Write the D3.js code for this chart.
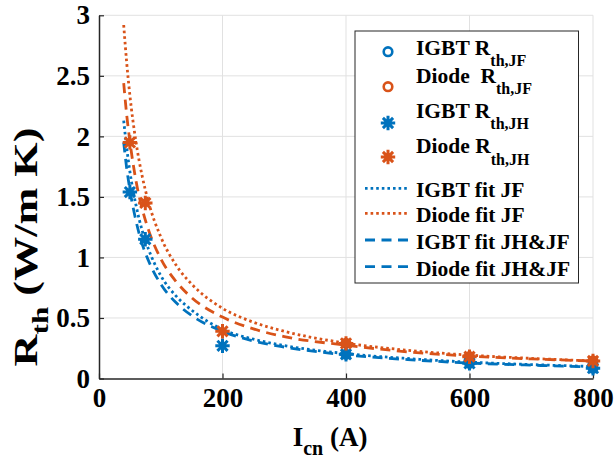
<!DOCTYPE html>
<html>
<head>
<meta charset="utf-8">
<script src="https://cdn.jsdelivr.net/npm/d3@7"></script>
<style>
  html, body { margin: 0; padding: 0; background: #fff; }
  svg { display: block; }
  text { font-family: "Liberation Serif", "Times New Roman", Times, serif; font-weight: bold; fill: #000; }
</style>
</head>
<body>
<svg id="chart" width="614" height="466"></svg>
<script>
// ---------------- data ----------------
const measX = [50, 75, 200, 400, 600, 800];
const igbtJH = [1.54, 1.15, 0.27, 0.20, 0.125, 0.085];
const diodeJH = [1.95, 1.45, 0.39, 0.29, 0.18, 0.145];
const jfX = [400, 600, 800];
const igbtJF = [0.20, 0.125, 0.085];
const diodeJF = [0.29, 0.18, 0.145];

const fitX = [40, 45, 50, 60, 70, 80, 100, 125, 150, 200, 250, 300, 400, 500, 600, 700, 800];
const igbtFitJF = [2.13, 1.90, 1.71, 1.43, 1.22, 1.07, 0.85, 0.68, 0.565, 0.405, 0.325, 0.272, 0.205, 0.165, 0.135, 0.115, 0.099];
const diodeFitJF = [2.92, 2.60, 2.34, 1.95, 1.67, 1.46, 1.17, 0.935, 0.78, 0.58, 0.465, 0.39, 0.292, 0.233, 0.193, 0.166, 0.145];
const igbtFitJHJF = [1.95, 1.73, 1.56, 1.30, 1.11, 0.975, 0.78, 0.625, 0.52, 0.39, 0.31, 0.26, 0.195, 0.156, 0.128, 0.11, 0.096];
const diodeFitJHJF = [2.44, 2.17, 1.96, 1.63, 1.40, 1.23, 0.99, 0.80, 0.668, 0.507, 0.41, 0.346, 0.275, 0.22, 0.185, 0.162, 0.145];

const xTicks = [0, 200, 400, 600, 800];
const yTicks = [0, 0.5, 1, 1.5, 2, 2.5, 3];
const yTickLabels = ["0", "0.5", "1", "1.5", "2", "2.5", "3"];

const BLUE = "#0072BD", RED = "#D95319";

// ---------------- layout ----------------
const svg = d3.select("#chart");
const L = 99, R = 593, T = 15.3, B = 378.5;
const x = d3.scaleLinear().domain([0, 800]).range([L, R]);
const y = d3.scaleLinear().domain([0, 3]).range([B, T]);

// grid
const grid = svg.append("g");
grid.selectAll("line.v").data(xTicks.slice(1)).join("line")
  .attr("x1", d => x(d)).attr("x2", d => x(d)).attr("y1", T).attr("y2", B)
  .attr("stroke", "#e1e1e1").attr("stroke-width", 1);
grid.selectAll("line.h").data(yTicks.slice(1)).join("line")
  .attr("x1", L).attr("x2", R).attr("y1", d => y(d)).attr("y2", d => y(d))
  .attr("stroke", "#e1e1e1").attr("stroke-width", 1);

// axes
const xAxis = d3.axisBottom(x).tickValues(xTicks).tickFormat(d3.format("d"))
  .tickSizeInner(-5).tickSizeOuter(0).tickPadding(9);
const yAxis = d3.axisLeft(y).tickValues(yTicks).tickFormat((d, i) => yTickLabels[i])
  .tickSizeInner(-5).tickSizeOuter(0).tickPadding(9);

const gx = svg.append("g").attr("transform", `translate(0,${B})`).call(xAxis);
const gy = svg.append("g").attr("transform", `translate(${L},0)`).call(yAxis);
[gx, gy].forEach(g => {
  g.attr("font-family", null);
  g.select(".domain").attr("stroke", "#262626").attr("stroke-width", 1.5);
  g.selectAll(".tick line").attr("stroke", "#262626").attr("stroke-width", 1.2);
  g.selectAll(".tick text").attr("font-size", 27).attr("fill", "#000");
});

// curves
const plot = svg.append("g");
const line = d3.line().x(d => x(d[0])).y(d => y(d[1])).curve(d3.curveMonotoneX);

// markers
function asterisk(g, cx, cy, color) {
  const s = 7.2, d = s * 0.7071;
  g.append("path")
    .attr("d", `M${cx - s},${cy}L${cx + s},${cy}M${cx},${cy - s}L${cx},${cy + s}M${cx - d},${cy - d}L${cx + d},${cy + d}M${cx - d},${cy + d}L${cx + d},${cy - d}`)
    .attr("stroke", color).attr("stroke-width", 3).attr("fill", "none");
}
function circle(g, cx, cy, color) {
  g.append("circle").attr("cx", cx).attr("cy", cy).attr("r", 4.3)
    .attr("fill", "none").attr("stroke", color).attr("stroke-width", 2.6);
}
const mk = svg.append("g");
jfX.forEach((v, i) => circle(mk, x(v), y(igbtJF[i]), BLUE));
jfX.forEach((v, i) => circle(mk, x(v), y(diodeJF[i]), RED));
measX.forEach((v, i) => asterisk(mk, x(v), y(igbtJH[i]), BLUE));
measX.forEach((v, i) => asterisk(mk, x(v), y(diodeJH[i]), RED));

const fits = [
  { v: igbtFitJF, c: BLUE, dash: "2.6,3" },
  { v: diodeFitJF, c: RED, dash: "2.6,3" },
  { v: igbtFitJHJF, c: BLUE, dash: "10,6.5" },
  { v: diodeFitJHJF, c: RED, dash: "10,6.5" }
];
fits.forEach(f => {
  plot.append("path").datum(fitX.map((v, i) => [v, f.v[i]]))
    .attr("d", line).attr("fill", "none").attr("stroke", f.c)
    .attr("stroke-width", 2.8).attr("stroke-dasharray", f.dash);
});
mk.raise();

// axis titles
const xt = svg.append("text").attr("x", 330).attr("y", 446).attr("text-anchor", "middle").attr("font-size", 27);
xt.append("tspan").text("I");
xt.append("tspan").attr("dy", 9).attr("font-size", 20).text("cn");
xt.append("tspan").attr("dy", -9).text(" (A)");

const yt = svg.append("text").attr("transform", "translate(37,247) rotate(-90) scale(1.3,1)")
  .attr("text-anchor", "middle").attr("font-size", 34);
yt.append("tspan").text("R");
yt.append("tspan").attr("dy", 11).attr("font-size", 24).text("th");
yt.append("tspan").attr("dy", -11).text(" (W/m K)");

// legend
const lg = svg.append("g");
lg.append("rect").attr("x", 355).attr("y", 31).attr("width", 223.5).attr("height", 252)
  .attr("fill", "#fff").attr("stroke", "#262626").attr("stroke-width", 1);
const legRows = [
  { kind: "circle", c: BLUE, my: 51.7, main: "IGBT R", sub: "th,JF", by: 55, sy: 66 },
  { kind: "circle", c: RED, my: 86.7, main: "Diode\u00a0\u00a0R", sub: "th,JF", by: 83.3, sy: 94 },
  { kind: "star", c: BLUE, my: 123, main: "IGBT R", sub: "th,JH", by: 118, sy: 129 },
  { kind: "star", c: RED, my: 157, main: "Diode R", sub: "th,JH", by: 153, sy: 165 }
];
legRows.forEach(r => {
  if (r.kind === "circle") circle(lg, 388, r.my, r.c); else asterisk(lg, 388, r.my, r.c);
  const t = lg.append("text").attr("x", 416).attr("y", r.by).attr("font-size", 21.5);
  t.append("tspan").text(r.main);
  t.append("tspan").attr("y", r.sy).attr("font-size", 16).text(r.sub);
});
const legLines = [
  { c: BLUE, dash: "2.6,3", ly: 188.3, label: "IGBT fit JF" },
  { c: RED, dash: "2.6,3", ly: 213.3, label: "Diode fit JF" },
  { c: BLUE, dash: "10,6.5", ly: 240, label: "IGBT fit JH&JF" },
  { c: BLUE, dash: "10,6.5", ly: 266.7, label: "Diode fit JH&JF" }
];
legLines.forEach(r => {
  lg.append("line").attr("x1", 365).attr("x2", 409).attr("y1", r.ly).attr("y2", r.ly)
    .attr("stroke", r.c).attr("stroke-width", 2.8).attr("stroke-dasharray", r.dash);
  lg.append("text").attr("x", 416).attr("y", r.ly + 9).attr("font-size", 21.5).text(r.label);
});
</script>
</body>
</html>
